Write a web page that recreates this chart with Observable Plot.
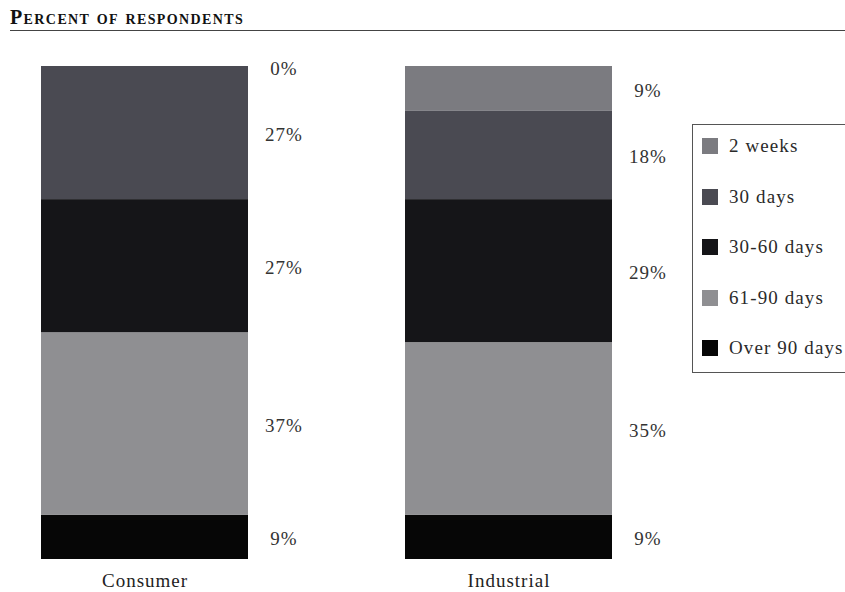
<!DOCTYPE html>
<html>
<head>
<meta charset="utf-8">
<script src="https://cdn.jsdelivr.net/npm/d3@7"></script>
<script src="https://cdn.jsdelivr.net/npm/@observablehq/plot@0.6"></script>
<style>
  html, body { margin: 0; padding: 0; background: #fff; }
  body { width: 845px; height: 592px; overflow: hidden; position: relative; font-family: "Liberation Serif", serif; color: #222; }
  #title { position: absolute; left: 10px; top: 0; width: 835px; height: 31px; padding-top: 7px; box-sizing: border-box;
           border-bottom: 1.5px solid #444; font-weight: bold; font-variant: small-caps; font-size: 20px; letter-spacing: 1.4px;
           line-height: 1; color: #111; }
  #chart { position: absolute; left: 0; top: 31px; }
  #legend { position: absolute; left: 692px; top: 124px; width: 170px; height: 249px; box-sizing: border-box;
            border: 1px solid #555; background: #fff; }
  .item { position: absolute; left: 9px; height: 20px; display: flex; align-items: center; font-size: 19px;
          letter-spacing: 1.1px; white-space: nowrap; color: #2a2a2a; }
  .swatch { width: 16px; height: 16px; margin-right: 11px; flex: none; }
</style>
</head>
<body>
<div id="title">Percent of respondents</div>
<div id="chart"></div>
<div id="legend"></div>
<script>
// Customer groups shown as stacked bars
const categories = ["Consumer", "Industrial"];
// Payment terms, listed from the bottom of each bar to the top
const terms = ["Over 90 days", "61-90 days", "30-60 days", "30 days", "2 weeks"];
// Percent of respondents per term (same order as terms)
const consumer = [9, 37, 27, 27, 0];
const industrial = [9, 35, 29, 18, 9];
// Fill for each term (same order as terms)
const colors = ["#060606", "#8f8f92", "#151518", "#4a4a52", "#7b7b80"];
// Legend reads from the top term down
const legendTerms = ["2 weeks", "30 days", "30-60 days", "61-90 days", "Over 90 days"];

const series = [consumer, industrial];
const rows = categories.flatMap((category, i) =>
  terms.map((term, j) => ({category, term, value: series[i][j]}))
);

const chart = Plot.plot({
  width: 845,
  height: 561,
  marginTop: 35,
  marginBottom: 33,
  marginLeft: 40,
  marginRight: 232,
  style: {fontFamily: "Liberation Serif, serif", fontSize: "19px", color: "#222", background: "transparent", letterSpacing: "1px"},
  x: {domain: categories, paddingInner: 0.43, paddingOuter: 0, label: null, tickSize: 0, tickPadding: 14},
  y: {domain: [0, 100], axis: null},
  color: {domain: terms, range: colors},
  marks: [
    Plot.barY(rows, {x: "category", y: "value", fill: "term"}),
    Plot.text(rows, Plot.stackY({
      x: "category", y: "value",
      text: d => `${d.value}%`,
      dx: 139, dy: 2, fill: "#333", fontSize: 19
    })),
    Plot.axisX({tickSize: 0, tickPadding: 14, fontSize: 19, label: null, fill: "#222", style: {letterSpacing: "1.6px"}})
  ]
});
document.getElementById("chart").appendChild(chart);

// Legend built from the plot's color scale
const color = chart.scale("color");
const legend = document.getElementById("legend");
legendTerms.forEach((term, i) => {
  const item = document.createElement("div");
  item.className = "item";
  item.style.top = `${11 + 50.5 * i}px`;
  const sw = document.createElement("span");
  sw.className = "swatch";
  sw.style.background = colors[color.domain.indexOf(term)];
  const label = document.createElement("span");
  label.textContent = term;
  item.appendChild(sw);
  item.appendChild(label);
  legend.appendChild(item);
});
</script>
</body>
</html>
